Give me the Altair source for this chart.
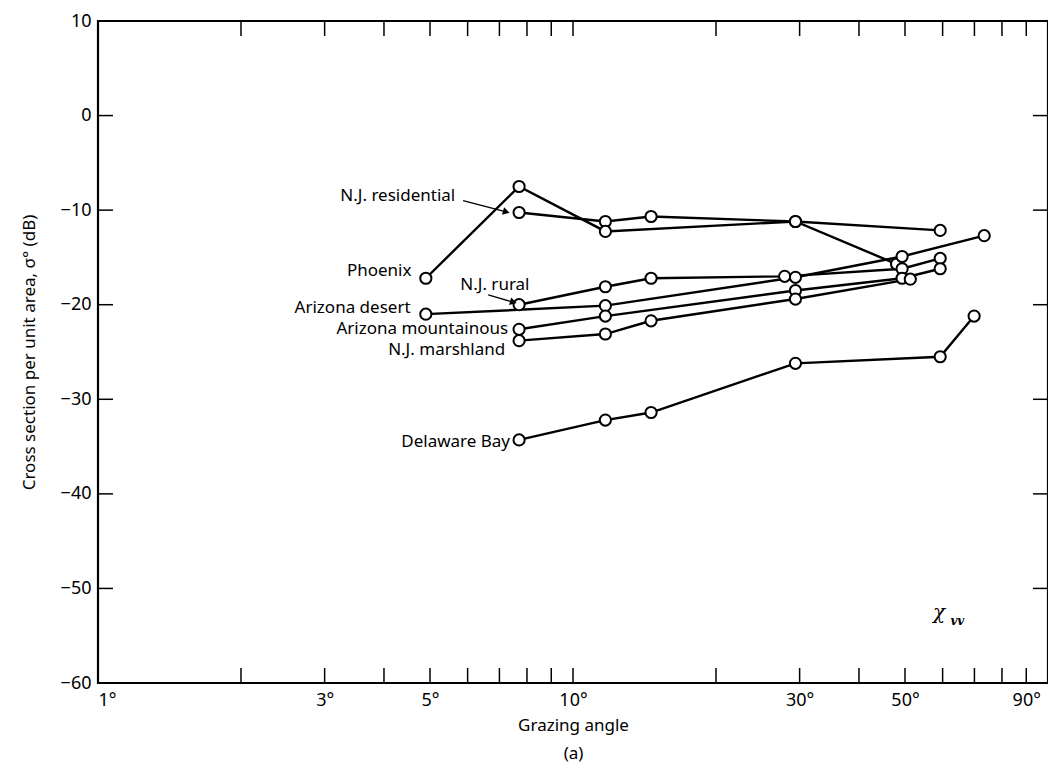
import altair as alt
import pandas as pd

# ---- data ----
series_names = ["N.J. residential", "Phoenix", "N.J. rural", "Arizona desert",
                "Arizona mountainous", "N.J. marshland", "Delaware Bay"]

res_x = [7.7, 11.7, 14.6, 29.4, 59.3]
res_y = [-10.25, -11.2, -10.67, -11.2, -12.14]

phx_x = [4.9, 7.7, 11.7, 29.4, 48.0]
phx_y = [-17.2, -7.5, -12.25, -11.2, -15.7]

rur_x = [7.7, 11.7, 14.6, 27.9, 49.3, 59.3]
rur_y = [-20.0, -18.1, -17.2, -17.0, -16.2, -15.1]

des_x = [4.9, 11.7, 29.4, 49.3, 73.4]
des_y = [-21.0, -20.1, -17.1, -14.9, -12.7]

mtn_x = [7.7, 11.7, 29.4, 49.3, 59.3]
mtn_y = [-22.6, -21.2, -18.5, -17.2, -16.2]

mar_x = [7.7, 11.7, 14.6, 29.4, 51.3]
mar_y = [-23.8, -23.1, -21.7, -19.4, -17.3]

del_x = [7.7, 11.7, 14.6, 29.4, 59.3, 69.9]
del_y = [-34.3, -32.2, -31.4, -26.2, -25.5, -21.2]

xs = [res_x, phx_x, rur_x, des_x, mtn_x, mar_x, del_x]
ys = [res_y, phx_y, rur_y, des_y, mtn_y, mar_y, del_y]

x_label_values = [1, 3, 5, 10, 30, 50, 90]
x_tick_values = [2, 3, 4, 5, 6, 7, 8, 9, 10, 20, 30, 40, 50, 60, 70, 80, 90]
y_tick_values = [-50, -40, -30, -20, -10, 0]

# annotation labels
label_text_r = ["N.J. residential", "Phoenix", "Arizona desert",
                "Arizona mountainous", "N.J. marshland", "Delaware Bay"]
label_x_r = [5.65, 4.57, 4.55, 7.30, 7.2, 7.37]
label_y_r = [-8.47, -16.44, -20.3, -22.6, -24.8, -34.5]
label_text_l = ["N.J. rural"]
label_x_l = [5.79]
label_y_l = [-17.9]

arrow_x = [5.87, 6.63]
arrow_y = [-9.0, -18.96]
arrow_x2 = [7.2, 7.45]
arrow_y2 = [-10.15, -19.7]
arrow_angle = [105, 106]

rows = []
for name, xv, yv in zip(series_names, xs, ys):
    for i, (a, b) in enumerate(zip(xv, yv)):
        rows.append({"series": name, "angle": a, "db": b, "order": i})
df = pd.DataFrame(rows)

lab_r_df = pd.DataFrame({"text": label_text_r, "x": label_x_r, "y": label_y_r})
lab_l_df = pd.DataFrame({"text": label_text_l, "x": label_x_l, "y": label_y_l})
arr_df = pd.DataFrame({"x": arrow_x, "y": arrow_y, "x2": arrow_x2, "y2": arrow_y2, "ang": arrow_angle})
xt_df = pd.DataFrame({"v": x_tick_values})
yt_df = pd.DataFrame({"v": y_tick_values})

FONT = "Noto Sans"
W, H = 950, 662

xscale = alt.Scale(type="log", domain=[1, 100], nice=False)
yscale = alt.Scale(domain=[-60, 10], nice=False, zero=False)

xaxis = alt.Axis(values=x_label_values, labelExpr="datum.value + '°'", ticks=False,
                 domain=False, grid=False, labelFontSize=18, labelFont=FONT,
                 labelColor="black", labelPadding=8, title=["Grazing angle", "(a)"],
                 titleFontSize=17, titleFont=FONT, titleFontWeight="normal",
                 titleColor="black", titleLineHeight=28, titlePadding=8)
yaxis = alt.Axis(values=[-60, -50, -40, -30, -20, -10, 0, 10],
                 labelExpr="datum.value < 0 ? '−' + abs(datum.value) : datum.value",
                 ticks=False, domain=False, grid=False, labelFontSize=18, labelFont=FONT,
                 labelColor="black", labelPadding=7,
                 title="Cross section per unit area, σ° (dB)",
                 titleFontSize=17, titleFont=FONT, titleFontWeight="normal",
                 titleColor="black", titlePadding=22)

base = alt.Chart(df)
lines = base.mark_line(color="black", strokeWidth=2.4).encode(
    x=alt.X("angle:Q", scale=xscale, axis=xaxis),
    y=alt.Y("db:Q", scale=yscale, axis=yaxis),
    detail="series:N",
    order="order:Q",
)
points = base.mark_point(shape="circle", size=125, filled=True, fill="white",
                         stroke="black", strokeWidth=2, opacity=1).encode(
    x=alt.X("angle:Q", scale=xscale),
    y=alt.Y("db:Q", scale=yscale),
)

labels_r = alt.Chart(lab_r_df).mark_text(
    font=FONT, fontSize=17, baseline="middle", align="right", color="black").encode(
    x=alt.X("x:Q", scale=xscale), y=alt.Y("y:Q", scale=yscale), text="text:N")
labels_l = alt.Chart(lab_l_df).mark_text(
    font=FONT, fontSize=17, baseline="middle", align="left", color="black").encode(
    x=alt.X("x:Q", scale=xscale), y=alt.Y("y:Q", scale=yscale), text="text:N")

arrows = alt.Chart(arr_df).mark_rule(color="black", strokeWidth=1.3).encode(
    x=alt.X("x:Q", scale=xscale), y=alt.Y("y:Q", scale=yscale),
    x2="x2:Q", y2="y2:Q")
heads = alt.Chart(arr_df).mark_point(shape="triangle", size=60, filled=True,
                                     color="black", opacity=1).encode(
    x=alt.X("x2:Q", scale=xscale), y=alt.Y("y2:Q", scale=yscale),
    angle=alt.Angle("ang:Q", scale=None))

chi_df = pd.DataFrame({"x": [57.3], "y": [-52.6], "t": ["χ"]})
sub_df = pd.DataFrame({"x": [62.3], "y": [-53.4], "t": ["vv"]})
chi = alt.Chart(chi_df).mark_text(font="DejaVu Serif", fontSize=20, fontStyle="italic",
                                  align="left", baseline="middle", color="black").encode(
    x=alt.X("x:Q", scale=xscale), y=alt.Y("y:Q", scale=yscale), text="t:N")
sub = alt.Chart(sub_df).mark_text(font="DejaVu Serif", fontSize=12, fontStyle="italic",
                                  fontWeight="bold", align="left", baseline="middle",
                                  color="black").encode(
    x=alt.X("x:Q", scale=xscale), y=alt.Y("y:Q", scale=yscale), text="t:N")

TL = 15
xt_bot = alt.Chart(xt_df).mark_rule(color="black", strokeWidth=1.5).encode(
    x=alt.X("v:Q", scale=xscale), y=alt.value(H), y2=alt.value(H - TL))
xt_top = alt.Chart(xt_df).mark_rule(color="black", strokeWidth=1.5).encode(
    x=alt.X("v:Q", scale=xscale), y=alt.value(0), y2=alt.value(TL))
yt_l = alt.Chart(yt_df).mark_rule(color="black", strokeWidth=1.5).encode(
    y=alt.Y("v:Q", scale=yscale), x=alt.value(0), x2=alt.value(TL))
yt_r = alt.Chart(yt_df).mark_rule(color="black", strokeWidth=1.5).encode(
    y=alt.Y("v:Q", scale=yscale), x=alt.value(W), x2=alt.value(W - TL))

chart = alt.layer(lines, points, labels_r, labels_l, arrows, heads, chi, sub,
                  xt_bot, xt_top, yt_l, yt_r).properties(
    width=W, height=H,
    padding={"left": 90, "top": 13, "right": 0, "bottom": 85},
    autosize=alt.AutoSizeParams(type="none"),
    background="white",
).configure_view(stroke="black", strokeWidth=2.2)

chart.save("out.html", embed_options={"renderer": "svg", "actions": False})
